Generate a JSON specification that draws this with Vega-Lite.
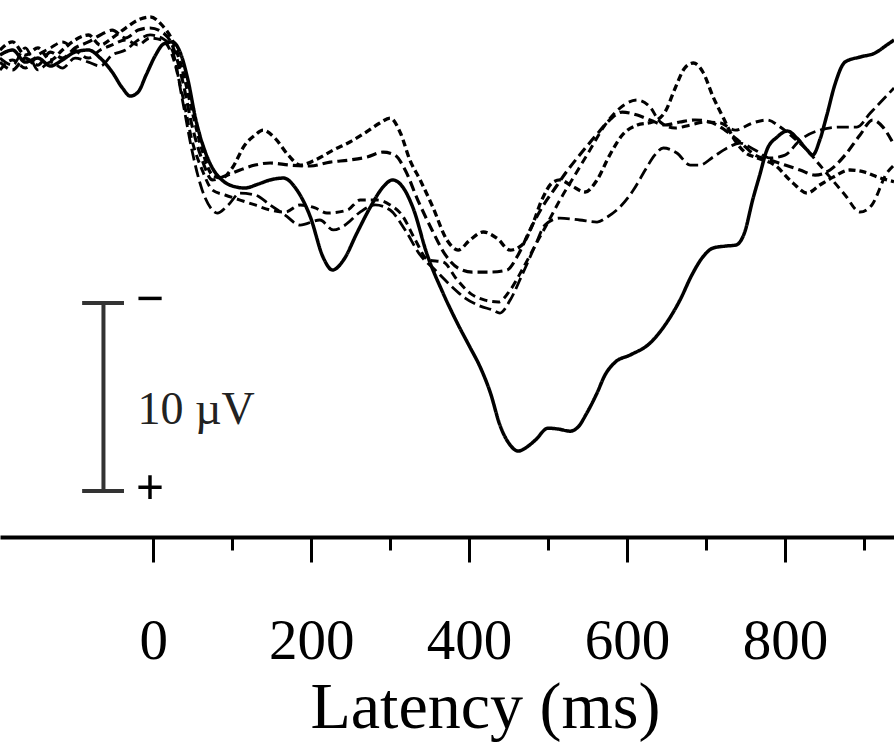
{
  "$schema": "https://vega.github.io/schema/vega-lite/v6.json",
  "width": 894,
  "height": 537,
  "autosize": {"type": "none"},
  "padding": {"left": 0, "top": 0, "right": 0, "bottom": 209},
  "background": "white",
  "config": {"view": {"stroke": null}},
  "datasets": {
    "erp": [
      {"c":"S","t":-194,"v":0.27},{"c":"S","t":-178,"v":0},{"c":"S","t":-162,"v":0.64},{"c":"S","t":-146,"v":0.43},{"c":"S","t":-130,"v":0.85},{"c":"S","t":-115,"v":0.53},{"c":"S","t":-99,"v":0.11},{"c":"S","t":-82,"v":0},{"c":"S","t":-67,"v":0.43},{"c":"S","t":-52,"v":1.17},{"c":"S","t":-39,"v":2.02},{"c":"S","t":-29,"v":2.45},{"c":"S","t":-19,"v":2.23},{"c":"S","t":-9,"v":1.33},{"c":"S","t":3,"v":0.27},{"c":"S","t":13,"v":-0.32},{"c":"S","t":24,"v":-0.43},{"c":"S","t":34,"v":0.11},{"c":"S","t":44,"v":1.6},{"c":"S","t":54,"v":3.72},{"c":"S","t":65,"v":5.32},{"c":"S","t":75,"v":6.28},{"c":"S","t":87,"v":6.91},{"c":"S","t":100,"v":7.23},{"c":"S","t":116,"v":7.34},{"c":"S","t":133,"v":7.13},{"c":"S","t":148,"v":6.91},{"c":"S","t":165,"v":6.81},{"c":"S","t":182,"v":7.45},{"c":"S","t":199,"v":8.88},{"c":"S","t":215,"v":11.01},{"c":"S","t":227,"v":11.7},{"c":"S","t":241,"v":11.17},{"c":"S","t":258,"v":9.73},{"c":"S","t":275,"v":8.35},{"c":"S","t":291,"v":7.29},{"c":"S","t":303,"v":6.91},{"c":"S","t":316,"v":7.29},{"c":"S","t":329,"v":8.4},{"c":"S","t":347,"v":10.9},{"c":"S","t":367,"v":12.93},{"c":"S","t":385,"v":14.52},{"c":"S","t":401,"v":15.8},{"c":"S","t":414,"v":16.86},{"c":"S","t":427,"v":18.24},{"c":"S","t":439,"v":19.95},{"c":"S","t":452,"v":21.01},{"c":"S","t":462,"v":21.33},{"c":"S","t":473,"v":21.12},{"c":"S","t":484,"v":20.74},{"c":"S","t":500,"v":20.11},{"c":"S","t":513,"v":20.16},{"c":"S","t":528,"v":20.27},{"c":"S","t":538,"v":20.05},{"c":"S","t":549,"v":19.31},{"c":"S","t":562,"v":18.24},{"c":"S","t":572,"v":17.29},{"c":"S","t":585,"v":16.6},{"c":"S","t":604,"v":16.22},{"c":"S","t":629,"v":15.59},{"c":"S","t":648,"v":14.63},{"c":"S","t":667,"v":13.3},{"c":"S","t":682,"v":11.97},{"c":"S","t":695,"v":11.06},{"c":"S","t":709,"v":10.53},{"c":"S","t":724,"v":10.43},{"c":"S","t":738,"v":10.37},{"c":"S","t":749,"v":9.68},{"c":"S","t":759,"v":7.98},{"c":"S","t":768,"v":6.65},{"c":"S","t":777,"v":5.32},{"c":"S","t":790,"v":4.63},{"c":"S","t":803,"v":4.31},{"c":"S","t":815,"v":4.68},{"c":"S","t":828,"v":5.32},{"c":"S","t":835,"v":5.59},{"c":"S","t":844,"v":4.79},{"c":"S","t":853,"v":3.46},{"c":"S","t":863,"v":1.86},{"c":"S","t":876,"v":0.64},{"c":"S","t":895,"v":0.37},{"c":"S","t":914,"v":0.16},{"c":"S","t":929,"v":-0.27},{"c":"S","t":938,"v":-0.53},

      {"c":"A","t":-194,"v":0},{"c":"A","t":-178,"v":-0.43},{"c":"A","t":-162,"v":0.27},{"c":"A","t":-146,"v":-0.11},{"c":"A","t":-130,"v":0.53},{"c":"A","t":-115,"v":0},{"c":"A","t":-99,"v":-0.53},{"c":"A","t":-82,"v":-0.8},{"c":"A","t":-67,"v":-0.27},{"c":"A","t":-52,"v":-0.64},{"c":"A","t":-35,"v":-1.17},{"c":"A","t":-19,"v":-1.6},{"c":"A","t":-4,"v":-1.76},{"c":"A","t":11,"v":-1.33},{"c":"A","t":24,"v":-0.53},{"c":"A","t":37,"v":1.06},{"c":"A","t":49,"v":3.19},{"c":"A","t":62,"v":5.32},{"c":"A","t":75,"v":6.65},{"c":"A","t":87,"v":6.81},{"c":"A","t":100,"v":6.28},{"c":"A","t":116,"v":5.05},{"c":"A","t":129,"v":4.52},{"c":"A","t":139,"v":4.26},{"c":"A","t":154,"v":4.68},{"c":"A","t":171,"v":5.59},{"c":"A","t":186,"v":6.12},{"c":"A","t":205,"v":5.85},{"c":"A","t":228,"v":5.32},{"c":"A","t":249,"v":4.89},{"c":"A","t":268,"v":4.41},{"c":"A","t":287,"v":3.88},{"c":"A","t":300,"v":3.62},{"c":"A","t":313,"v":4.41},{"c":"A","t":325,"v":5.85},{"c":"A","t":338,"v":6.91},{"c":"A","t":354,"v":8.35},{"c":"A","t":372,"v":10.11},{"c":"A","t":386,"v":10.64},{"c":"A","t":401,"v":10.11},{"c":"A","t":418,"v":9.68},{"c":"A","t":435,"v":10.0},{"c":"A","t":452,"v":10.64},{"c":"A","t":467,"v":10.37},{"c":"A","t":480,"v":9.31},{"c":"A","t":492,"v":7.98},{"c":"A","t":505,"v":7.07},{"c":"A","t":515,"v":6.91},{"c":"A","t":530,"v":7.23},{"c":"A","t":547,"v":7.55},{"c":"A","t":562,"v":6.91},{"c":"A","t":578,"v":5.59},{"c":"A","t":594,"v":4.52},{"c":"A","t":613,"v":3.99},{"c":"A","t":632,"v":3.83},{"c":"A","t":648,"v":3.3},{"c":"A","t":661,"v":2.02},{"c":"A","t":673,"v":0.96},{"c":"A","t":684,"v":0.69},{"c":"A","t":696,"v":1.17},{"c":"A","t":709,"v":2.5},{"c":"A","t":722,"v":3.62},{"c":"A","t":734,"v":4.63},{"c":"A","t":749,"v":5.43},{"c":"A","t":765,"v":5.74},{"c":"A","t":787,"v":6.12},{"c":"A","t":810,"v":7.07},{"c":"A","t":828,"v":7.61},{"c":"A","t":844,"v":7.18},{"c":"A","t":861,"v":6.76},{"c":"A","t":882,"v":6.38},{"c":"A","t":901,"v":6.5},{"c":"A","t":920,"v":6.8},{"c":"A","t":938,"v":7.0},

      {"c":"B","t":-194,"v":0.64},{"c":"B","t":-178,"v":1.06},{"c":"B","t":-162,"v":0.43},{"c":"B","t":-146,"v":0.8},{"c":"B","t":-130,"v":0.11},{"c":"B","t":-115,"v":0.43},{"c":"B","t":-99,"v":-0.11},{"c":"B","t":-82,"v":-0.43},{"c":"B","t":-67,"v":-0.8},{"c":"B","t":-52,"v":-1.06},{"c":"B","t":-35,"v":-0.64},{"c":"B","t":-19,"v":-1.06},{"c":"B","t":-4,"v":-1.17},{"c":"B","t":11,"v":-0.96},{"c":"B","t":24,"v":-0.27},{"c":"B","t":37,"v":1.6},{"c":"B","t":49,"v":3.99},{"c":"B","t":62,"v":5.85},{"c":"B","t":75,"v":6.91},{"c":"B","t":91,"v":6.7},{"c":"B","t":110,"v":6.38},{"c":"B","t":129,"v":6.12},{"c":"B","t":148,"v":6.01},{"c":"B","t":173,"v":6.12},{"c":"B","t":199,"v":6.17},{"c":"B","t":224,"v":5.96},{"c":"B","t":249,"v":5.85},{"c":"B","t":271,"v":5.69},{"c":"B","t":291,"v":5.43},{"c":"B","t":306,"v":5.59},{"c":"B","t":319,"v":6.38},{"c":"B","t":335,"v":7.98},{"c":"B","t":353,"v":9.57},{"c":"B","t":370,"v":10.9},{"c":"B","t":386,"v":11.6},{"c":"B","t":404,"v":11.81},{"c":"B","t":427,"v":11.81},{"c":"B","t":448,"v":11.7},{"c":"B","t":462,"v":10.9},{"c":"B","t":477,"v":9.57},{"c":"B","t":492,"v":8.4},{"c":"B","t":509,"v":7.34},{"c":"B","t":525,"v":6.38},{"c":"B","t":543,"v":5.43},{"c":"B","t":561,"v":4.52},{"c":"B","t":578,"v":3.72},{"c":"B","t":594,"v":3.3},{"c":"B","t":613,"v":3.46},{"c":"B","t":629,"v":3.72},{"c":"B","t":648,"v":3.99},{"c":"B","t":667,"v":3.83},{"c":"B","t":686,"v":3.72},{"c":"B","t":705,"v":3.83},{"c":"B","t":724,"v":4.26},{"c":"B","t":743,"v":4.89},{"c":"B","t":762,"v":5.59},{"c":"B","t":781,"v":5.85},{"c":"B","t":800,"v":6.12},{"c":"B","t":819,"v":6.38},{"c":"B","t":838,"v":6.65},{"c":"B","t":857,"v":6.38},{"c":"B","t":876,"v":5.59},{"c":"B","t":895,"v":4.52},{"c":"B","t":911,"v":3.72},{"c":"B","t":924,"v":4.1},{"c":"B","t":938,"v":5.05},

      {"c":"C","t":-194,"v":1.06},{"c":"C","t":-178,"v":0.53},{"c":"C","t":-162,"v":0.96},{"c":"C","t":-146,"v":0.27},{"c":"C","t":-130,"v":-0.11},{"c":"C","t":-115,"v":-0.43},{"c":"C","t":-99,"v":0},{"c":"C","t":-82,"v":0.43},{"c":"C","t":-67,"v":0},{"c":"C","t":-52,"v":-0.27},{"c":"C","t":-35,"v":-0.53},{"c":"C","t":-19,"v":-0.27},{"c":"C","t":-4,"v":-0.64},{"c":"C","t":11,"v":-0.53},{"c":"C","t":24,"v":0.27},{"c":"C","t":37,"v":2.39},{"c":"C","t":49,"v":4.79},{"c":"C","t":62,"v":6.38},{"c":"C","t":75,"v":7.45},{"c":"C","t":91,"v":7.71},{"c":"C","t":110,"v":7.98},{"c":"C","t":129,"v":8.24},{"c":"C","t":148,"v":8.51},{"c":"C","t":167,"v":8.62},{"c":"C","t":186,"v":8.24},{"c":"C","t":205,"v":8.4},{"c":"C","t":220,"v":8.67},{"c":"C","t":246,"v":8.51},{"c":"C","t":262,"v":7.98},{"c":"C","t":284,"v":7.98},{"c":"C","t":300,"v":8.24},{"c":"C","t":315,"v":8.78},{"c":"C","t":332,"v":10.11},{"c":"C","t":348,"v":11.17},{"c":"C","t":367,"v":11.28},{"c":"C","t":385,"v":12.23},{"c":"C","t":401,"v":12.93},{"c":"C","t":420,"v":13.3},{"c":"C","t":437,"v":13.4},{"c":"C","t":452,"v":12.77},{"c":"C","t":467,"v":11.7},{"c":"C","t":484,"v":10.37},{"c":"C","t":500,"v":9.15},{"c":"C","t":515,"v":7.98},{"c":"C","t":534,"v":6.65},{"c":"C","t":553,"v":5.32},{"c":"C","t":572,"v":3.99},{"c":"C","t":591,"v":3.09},{"c":"C","t":613,"v":2.66},{"c":"C","t":629,"v":3.03},{"c":"C","t":642,"v":3.83},{"c":"C","t":661,"v":4.15},{"c":"C","t":680,"v":3.99},{"c":"C","t":699,"v":3.83},{"c":"C","t":718,"v":3.88},{"c":"C","t":737,"v":4.26},{"c":"C","t":759,"v":3.88},{"c":"C","t":777,"v":3.72},{"c":"C","t":794,"v":4.1},{"c":"C","t":810,"v":4.63},{"c":"C","t":828,"v":5.32},{"c":"C","t":844,"v":6.12},{"c":"C","t":857,"v":6.76},{"c":"C","t":876,"v":7.71},{"c":"C","t":895,"v":8.62},{"c":"C","t":910,"v":8.24},{"c":"C","t":929,"v":6.54},{"c":"C","t":938,"v":6.12},

      {"c":"D","t":-194,"v":0.43},{"c":"D","t":-178,"v":0.8},{"c":"D","t":-162,"v":-0.11},{"c":"D","t":-146,"v":1.06},{"c":"D","t":-130,"v":0.64},{"c":"D","t":-115,"v":0.96},{"c":"D","t":-99,"v":0.43},{"c":"D","t":-82,"v":0.64},{"c":"D","t":-67,"v":0.85},{"c":"D","t":-52,"v":0.27},{"c":"D","t":-35,"v":0},{"c":"D","t":-19,"v":-0.53},{"c":"D","t":-4,"v":-0.8},{"c":"D","t":11,"v":-0.64},{"c":"D","t":24,"v":0},{"c":"D","t":37,"v":2.66},{"c":"D","t":49,"v":5.32},{"c":"D","t":62,"v":7.45},{"c":"D","t":75,"v":8.51},{"c":"D","t":81,"v":8.67},{"c":"D","t":95,"v":8.24},{"c":"D","t":110,"v":7.61},{"c":"D","t":129,"v":7.71},{"c":"D","t":148,"v":8.24},{"c":"D","t":167,"v":8.78},{"c":"D","t":186,"v":9.31},{"c":"D","t":211,"v":9.04},{"c":"D","t":228,"v":9.57},{"c":"D","t":243,"v":9.31},{"c":"D","t":262,"v":8.62},{"c":"D","t":281,"v":8.24},{"c":"D","t":300,"v":8.51},{"c":"D","t":319,"v":9.57},{"c":"D","t":338,"v":10.9},{"c":"D","t":357,"v":11.7},{"c":"D","t":376,"v":12.5},{"c":"D","t":395,"v":13.19},{"c":"D","t":414,"v":13.62},{"c":"D","t":430,"v":13.83},{"c":"D","t":439,"v":13.99},{"c":"D","t":452,"v":13.3},{"c":"D","t":467,"v":11.97},{"c":"D","t":484,"v":10.37},{"c":"D","t":496,"v":9.31},{"c":"D","t":515,"v":8.94},{"c":"D","t":540,"v":9.04},{"c":"D","t":562,"v":9.15},{"c":"D","t":575,"v":8.88},{"c":"D","t":591,"v":8.35},{"c":"D","t":608,"v":7.45},{"c":"D","t":623,"v":6.38},{"c":"D","t":635,"v":5.59},{"c":"D","t":646,"v":5.21},{"c":"D","t":663,"v":5.48},{"c":"D","t":680,"v":6.12},{"c":"D","t":692,"v":6.12},{"c":"D","t":709,"v":5.69},{"c":"D","t":727,"v":5.21},{"c":"D","t":743,"v":4.95},{"c":"D","t":762,"v":5.32},{"c":"D","t":781,"v":5.74},{"c":"D","t":800,"v":5.59},{"c":"D","t":819,"v":4.79},{"c":"D","t":844,"v":4.26},{"c":"D","t":870,"v":4.1},{"c":"D","t":891,"v":4.1},{"c":"D","t":908,"v":3.35},{"c":"D","t":920,"v":2.82},{"c":"D","t":938,"v":2.02}
    ],
    "bar": [
      {"t1":-63,"t2":-63,"v1":13.46,"v2":23.46},
      {"t1":-90,"t2":-37,"v1":13.46,"v2":13.46},
      {"t1":-90,"t2":-37,"v1":23.46,"v2":23.46}
    ],
    "label": [
      {"t":-20,"v":19.89,"txt":"10 µV"}
    ],
    "signs": [
      {"t":-4,"v":14.1,"txt":"−"},
      {"t":-4,"v":24.12,"txt":"+"}
    ]
  },
  "layer": [
    {
      "data": {"name": "erp"},
      "mark": {"type": "line", "interpolate": "monotone", "clip": true, "color": "black"},
      "encoding": {
        "x": {
          "field": "t", "type": "quantitative",
          "scale": {"domain": [-194, 938], "nice": false, "zero": false},
          "axis": {
            "values": [0,100,200,300,400,500,600,700,800,900],
            "labelExpr": "datum.value % 200 === 0 ? datum.label : ''",
            "title": "Latency (ms)",
            "grid": false,
            "domainColor": "black", "domainWidth": 4,
            "tickColor": "black", "tickWidth": 3,
            "tickSize": {"condition": {"test": "datum.value % 200 === 0", "value": 25}, "value": 13},
            "labelFont": "Liberation Serif", "labelFontSize": 57, "labelColor": "black",
            "labelBaseline": "alphabetic", "labelPadding": 96,
            "labelFlush": false, "labelOverlap": false,
            "titleFont": "Liberation Serif", "titleFontSize": 66, "titleFontWeight": "normal", "titleColor": "black",
            "titleX": 485, "titleY": 190, "titleBaseline": "alphabetic", "titleAlign": "center", "titleAnchor": null
          }
        },
        "y": {
          "field": "v", "type": "quantitative",
          "scale": {"domain": [-2.66, 25.9], "nice": false, "zero": false, "reverse": true},
          "axis": null
        },
        "strokeDash": {
          "field": "c", "type": "nominal",
          "scale": {"domain": ["S","A","B","C","D"], "range": [[1,0],[7,4],[10,5],[8,5],[12,5]]},
          "legend": null
        },
        "strokeWidth": {
          "field": "c", "type": "nominal",
          "scale": {"domain": ["S","A","B","C","D"], "range": [3.5,2.8,3.2,2.8,3.2]},
          "legend": null
        }
      }
    },
    {
      "data": {"name": "bar"},
      "mark": {"type": "rule", "color": "#333", "strokeWidth": 4},
      "encoding": {
        "x": {"field": "t1", "type": "quantitative"},
        "x2": {"field": "t2"},
        "y": {"field": "v1", "type": "quantitative"},
        "y2": {"field": "v2"}
      }
    },
    {
      "data": {"name": "label"},
      "mark": {"type": "text", "font": "Liberation Serif", "fontSize": 46, "color": "#222", "baseline": "alphabetic", "align": "left"},
      "encoding": {
        "x": {"field": "t", "type": "quantitative"},
        "y": {"field": "v", "type": "quantitative"},
        "text": {"field": "txt"}
      }
    },
    {
      "data": {"name": "signs"},
      "mark": {"type": "text", "font": "Liberation Serif", "fontSize": 50, "fontWeight": "bold", "color": "black", "baseline": "alphabetic", "align": "center"},
      "encoding": {
        "x": {"field": "t", "type": "quantitative"},
        "y": {"field": "v", "type": "quantitative"},
        "text": {"field": "txt"}
      }
    }
  ]
}
